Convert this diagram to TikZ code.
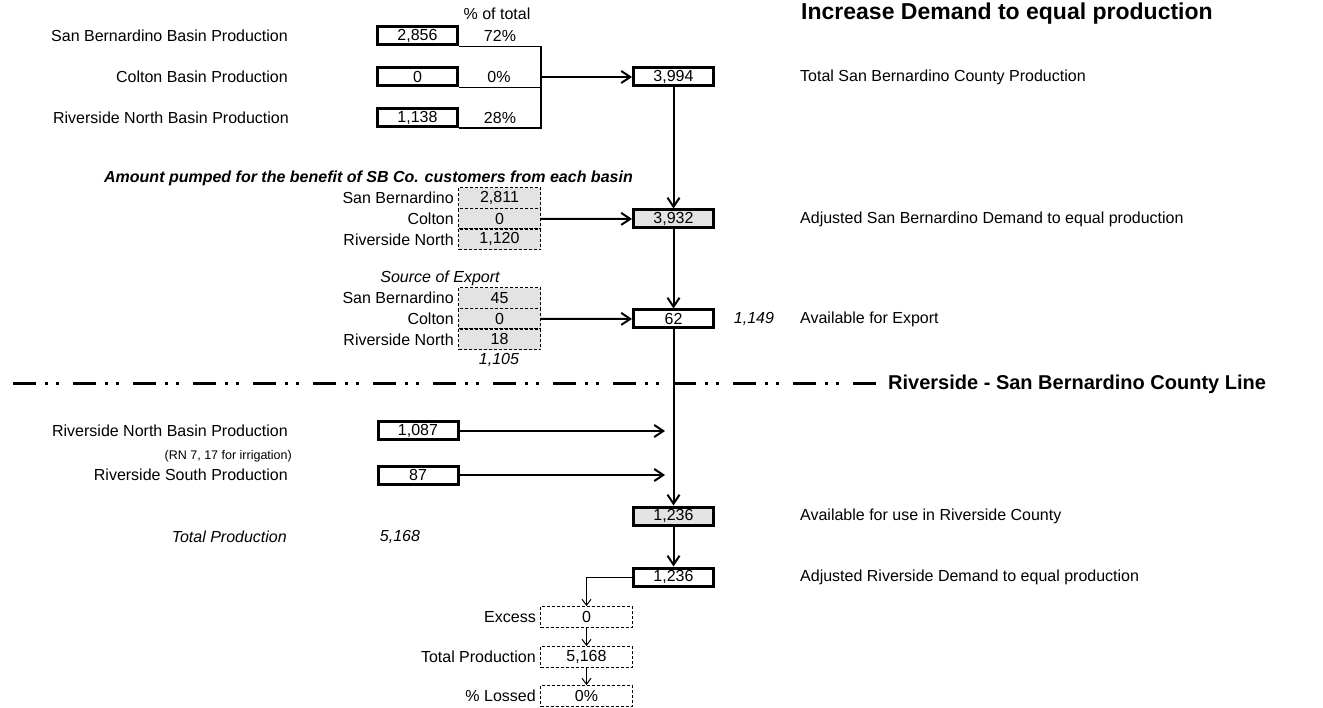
\documentclass[tikz,border=0pt]{standalone}
\usepackage{fontspec}
\setmainfont{Liberation Sans}
\usetikzlibrary{arrows.meta, positioning}
\definecolor{cellgray}{gray}{0.89}

\begin{document}
\begin{tikzpicture}[x=1pt,y=-1pt,>={Straight Barb[length=9pt,width=12pt]},every node/.style={inner sep=0pt, font=\fontsize{16}{19}\selectfont},itext/.style={font=\fontsize{16}{19}\selectfont\itshape},box/.style={draw, line width=3pt, minimum width=80pt, minimum height=18pt},shaded/.style={box, fill=cellgray},cell/.style={draw, line width=1.1pt, dash pattern=on 3pt off 2pt, fill=cellgray, minimum width=82pt, minimum height=20.7pt},whitecell/.style={cell, fill=white, minimum width=92pt},lbl/.style={anchor=east},note/.style={anchor=west},arrow/.style={->, line width=2pt},thinarrow/.style={->, line width=1pt, >={Straight Barb[length=6pt,width=9pt]}},bracket/.style={line width=1.3pt},boundary/.style={line width=3pt, dash pattern=on 23pt off 9pt on 3pt off 8pt on 3pt off 14pt}]
\useasboundingbox (0,0) rectangle (1323,708);
\node[note, font=\fontsize{23}{27}\selectfont\bfseries] (title) at (801,14) {Increase Demand to equal production};
\node (pcthead) at (497,14) {\% of total};
\node[lbl] (sblbl) at (288,36) {San Bernardino Basin Production};
\node[lbl] (coltlbl) at (288,77) {Colton Basin Production};
\node[lbl] (rnlbl) at (289,118) {Riverside North Basin Production};
\node[box] (sbprod) at (417.5,36) {2,856}; \node (sbpct) at (500,36) {72\%};
\node[box] (coltprod) at (417.5,77) {0}; \node (coltpct) at (499,77) {0\%};
\node[box] (rnprod) at (417.5,117.5) {1,138}; \node (rnpct) at (500,118) {28\%};
\coordinate (join) at (541,77);
\draw[bracket] (sbprod.south east) -- (sbprod.south east -| join) -- (rnprod.south east -| join) -- (rnprod.south east);
\draw[bracket] (coltprod.south east) -- (coltprod.south east -| join);
\node[box] (sbtotal) at (673.5,77) {3,994};
\node[shaded] (sbdemand) at (673.5,219) {3,932};
\node[box] (export) at (673.5,319) {62};
\node[shaded] (rvavail) at (673.5,516) {1,236};
\node[box] (rvdemand) at (673.5,577) {1,236};
\draw[arrow] (join) -- (sbtotal); \draw[arrow] (sbtotal) -- (sbdemand); \draw[arrow] (sbdemand) -- (export);
\draw[arrow] (export) -- (rvavail); \draw[arrow] (rvavail) -- (rvdemand);
\node[note] (sbtotalnote) at (800,77) {Total San Bernardino County Production};
\node[note] (sbdemandnote) at (800,219) {Adjusted San Bernardino Demand to equal production};
\node[note] (exportnote) at (800,319) {Available for Export};
\node[itext] (exporttotal) at (754,319) {1,149};
\node[note] (rvavailnote) at (800,516) {Available for use in Riverside County};
\node[note] (rvdemandnote) at (800,577) {Adjusted Riverside Demand to equal production};
\node[anchor=east, font=\fontsize{16}{19}\selectfont\bfseries\itshape] (pumphead) at (633,178) {Amount pumped for the benefit of SB Co. customers from each basin};
\node[cell] (sbpump) at (499.5,198) {2,811}; \node[lbl, left=4pt of sbpump] (sbpumplbl) {San Bernardino};
\node[cell] (coltpump) at (499.5,218.7) {0}; \node[lbl, left=4pt of coltpump] (coltpumplbl) {Colton};
\node[cell] (rnpump) at (499.5,239.4) {1,120}; \node[lbl, left=4pt of rnpump] (rnpumplbl) {Riverside North};
\draw[arrow] (coltpump) -- (sbdemand);
\node[itext] (exporthead) at (440,278) {Source of Export};
\node[cell] (sbexp) at (499.5,298) {45}; \node[lbl, left=4pt of sbexp] (sbexplbl) {San Bernardino};
\node[cell] (coltexp) at (499.5,318.7) {0}; \node[lbl, left=4pt of coltexp] (coltexplbl) {Colton};
\node[cell] (rnexp) at (499.5,339.4) {18}; \node[lbl, left=4pt of rnexp] (rnexplbl) {Riverside North};
\node[itext] (expsum) at (499,360) {1,105};
\draw[arrow] (coltexp) -- (export);
\node[note, font=\fontsize{20}{24}\selectfont\bfseries] (countyline) at (888,384) {Riverside - San Bernardino County Line};
\coordinate (linestart) at (13,384);
\draw[boundary] (linestart) -- ([xshift=-12pt]countyline.west);
\node[lbl] (rnlbl2) at (288,431) {Riverside North Basin Production};
\node[lbl, font=\fontsize{12.5}{15}\selectfont] (rnnote) at (292,456) {(RN 7, 17 for irrigation)};
\node[lbl] (rslbl) at (288,475) {Riverside South Production};
\node[box] (rnprod2) at (418,431) {1,087}; \node[box] (rsprod) at (418,475) {87};
\coordinate (rnin) at (665,431); \coordinate (rsin) at (665,475);
\draw[arrow] (rnprod2) -- (rnin); \draw[arrow] (rsprod) -- (rsin);
\node[lbl, itext] (totlbl) at (287,537) {Total Production};
\node[itext] (totval) at (400,537) {5,168};
\node[whitecell] (excess) at (586.5,617) {0}; \node[lbl, left=4pt of excess] (excesslbl) {Excess};
\node[whitecell] (totprod) at (586.5,657) {5,168}; \node[lbl, left=4pt of totprod] (totprodlbl) {Total Production};
\node[whitecell] (lossed) at (586.5,696) {0\%}; \node[lbl, left=4pt of lossed] (lossedlbl) {\% Lossed};
\draw[thinarrow] (rvdemand.west) -| (excess.north); \draw[thinarrow] (excess) -- (totprod); \draw[thinarrow] (totprod) -- (lossed);
\end{tikzpicture}
\end{document}
